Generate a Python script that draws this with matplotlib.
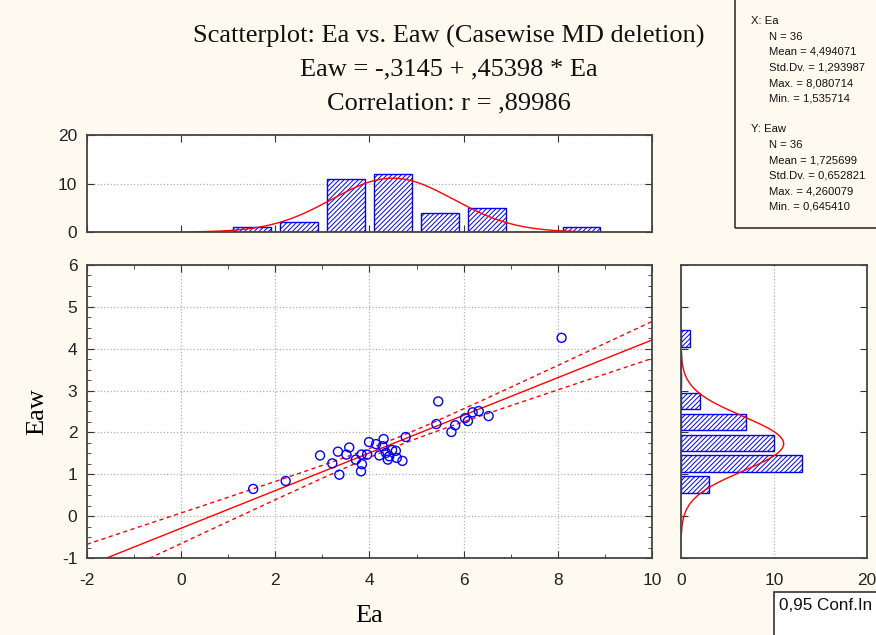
import matplotlib
matplotlib.use("Agg")
from matplotlib import pyplot as plt
from matplotlib import ticker
from matplotlib.patches import Rectangle
import numpy as np

# values
eaValues = [1.53, 2.22, 2.95, 3.21, 3.33, 3.36, 3.51, 3.57, 3.71, 3.83, 3.84, 3.82,
            3.95, 3.99, 4.14, 4.30, 4.28, 4.21, 4.35, 4.39, 4.48, 4.56, 4.58, 4.70,
            4.77, 4.42, 5.42, 5.46, 5.74, 5.82, 6.03, 6.09, 6.19, 6.32, 6.53, 8.08]
eawValues = [0.65, 0.84, 1.45, 1.26, 1.54, 0.99, 1.47, 1.64, 1.35, 1.47, 1.24, 1.07,
             1.47, 1.77, 1.72, 1.84, 1.67, 1.45, 1.51, 1.35, 1.58, 1.56, 1.39, 1.32,
             1.89, 1.43, 2.20, 2.74, 2.01, 2.17, 2.34, 2.27, 2.48, 2.51, 2.39, 4.26]

# histogram counts (Ea in bins of 1, Eaw in bins of 0.5)
eaBinEdges = [1, 2, 3, 4, 5, 6, 7, 8, 9]
eaCounts = [1, 2, 11, 12, 4, 5, 0, 1]
eawBinEdges = [0.5, 1.0, 1.5, 2.0, 2.5, 3.0, 3.5, 4.0, 4.5]
eawCounts = [3, 13, 10, 7, 2, 0, 0, 1]

titleLines = ["Scatterplot: Ea vs. Eaw (Casewise MD deletion)",
              "Eaw = -,3145 + ,45398 * Ea",
              "Correlation: r = ,89986"]
statsLines = ["X: Ea", "N = 36", "Mean = 4,494071", "Std.Dv. = 1,293987",
              "Max. = 8,080714", "Min. = 1,535714", "",
              "Y: Eaw", "N = 36", "Mean = 1,725699", "Std.Dv. = 0,652821",
              "Max. = 4,260079", "Min. = 0,645410"]

bgColor = "#fffaf0"
blue = "#0000ff"
red = "#ff0000"
serif = ["Liberation Serif", "DejaVu Serif"]
sans = ["Liberation Sans", "DejaVu Sans"]

plt.rcParams['font.family'] = sans
plt.rcParams['axes.unicode_minus'] = False
plt.rcParams['hatch.linewidth'] = 0.7
plt.rcParams['hatch.color'] = blue

fig = plt.figure(figsize=(8.76, 6.35), dpi=100, facecolor=bgColor)
axScatter = fig.add_axes([0.0993, 0.1213, 0.645, 0.4614])
axTop = fig.add_axes([0.0993, 0.6346, 0.645, 0.1528])
axRight = fig.add_axes([0.7774, 0.1213, 0.2123, 0.4614])


def styleAxes(ax):
    ax.set_facecolor("white")
    for spine in ax.spines.values():
        spine.set_color("#444444")
        spine.set_linewidth(1.3)
    ax.tick_params(which="both", direction="in", top=True, right=True,
                   color="#333333", labelsize=12.5, labelcolor="#222222", pad=7)
    ax.tick_params(axis="x", pad=11)
    ax.tick_params(which="major", length=5)
    ax.tick_params(which="minor", length=3)


x = np.array(eaValues)
y = np.array(eawValues)
n = len(x)

##--Scatterplot with fit and 95% confidence band--##
styleAxes(axScatter)
axScatter.set_xlim(-2, 10)
axScatter.set_ylim(-1, 6)
axScatter.xaxis.set_major_locator(ticker.MultipleLocator(2))
axScatter.xaxis.set_minor_locator(ticker.MultipleLocator(1))
axScatter.yaxis.set_major_locator(ticker.MultipleLocator(1))
axScatter.yaxis.set_minor_locator(ticker.MultipleLocator(0.25))
axScatter.grid(True, which="major", color="#b0b0b0", linestyle=":", linewidth=0.9)
axScatter.set_axisbelow(True)

slope, intercept = np.polyfit(x, y, 1)
xLine = np.linspace(-2, 10, 200)
yLine = intercept + slope * xLine
resid = y - (intercept + slope * x)
sResid = np.sqrt(np.sum(resid ** 2) / (n - 2))
sxx = np.sum((x - x.mean()) ** 2)
tValue = 2.032  # t(0.975, df=34)
band = tValue * sResid * np.sqrt(1 / n + (xLine - x.mean()) ** 2 / sxx)
axScatter.plot(xLine, yLine, color=red, linewidth=1)
axScatter.plot(xLine, yLine + band, color=red, linewidth=1, linestyle=(0, (3, 2.5)))
axScatter.plot(xLine, yLine - band, color=red, linewidth=1, linestyle=(0, (3, 2.5)))
axScatter.scatter(x, y, s=42, facecolors="none", edgecolors=blue, linewidths=1, zorder=3)

axScatter.set_xlabel("Ea", fontfamily=serif, fontsize=19, labelpad=12)
axScatter.set_ylabel("Eaw", fontfamily=serif, fontsize=19, labelpad=10)

##--Top histogram (Ea)--##
styleAxes(axTop)
axTop.set_xlim(-2, 10)
axTop.set_ylim(0, 20)
axTop.xaxis.set_major_locator(ticker.MultipleLocator(2))
axTop.yaxis.set_major_locator(ticker.MultipleLocator(10))
axTop.tick_params(labelbottom=False)
axTop.grid(True, axis="y", color="#b0b0b0", linestyle=":", linewidth=0.9)
axTop.set_axisbelow(True)
eaCenters = [(eaBinEdges[i] + eaBinEdges[i + 1]) / 2 for i in range(len(eaCounts))]
axTop.bar(eaCenters, eaCounts, width=0.8, color="white", edgecolor=blue,
          linewidth=1, hatch="///////")
xCurve = np.linspace(x.mean() - 3.3 * x.std(ddof=1), x.mean() + 3.3 * x.std(ddof=1), 200)
pdfX = np.exp(-0.5 * ((xCurve - x.mean()) / x.std(ddof=1)) ** 2) / (x.std(ddof=1) * np.sqrt(2 * np.pi))
axTop.plot(xCurve, n * 1.0 * pdfX, color=red, linewidth=1)

##--Right histogram (Eaw)--##
styleAxes(axRight)
axRight.set_xlim(0, 20)
axRight.set_ylim(-1, 6)
axRight.xaxis.set_major_locator(ticker.MultipleLocator(10))
axRight.yaxis.set_major_locator(ticker.MultipleLocator(1))
axRight.tick_params(axis="x", length=0)
axRight.tick_params(labelleft=False)
axRight.grid(True, axis="x", color="#b0b0b0", linestyle=":", linewidth=0.9)
axRight.set_axisbelow(True)
eawCenters = [(eawBinEdges[i] + eawBinEdges[i + 1]) / 2 for i in range(len(eawCounts))]
axRight.barh(eawCenters, eawCounts, height=0.4, color="white", edgecolor=blue,
             linewidth=1, hatch="///////")
yCurve = np.linspace(y.mean() - 3.3 * y.std(ddof=1), y.mean() + 3.3 * y.std(ddof=1), 200)
pdfY = np.exp(-0.5 * ((yCurve - y.mean()) / y.std(ddof=1)) ** 2) / (y.std(ddof=1) * np.sqrt(2 * np.pi))
axRight.plot(n * 0.5 * pdfY, yCurve, color=red, linewidth=1)

##--Titles and boxes--##
for i, line in enumerate(titleLines):
    fig.text(449 / 876, 1 - (36 + i * 33.5) / 635, line, fontfamily=serif, fontsize=19,
             ha="center", va="center", color="#111111")

fig.patches.append(Rectangle((735 / 876, 1 - 228 / 635), 0.3, 0.5, transform=fig.transFigure,
                             facecolor="none", edgecolor="#333333", linewidth=1.2))
for i, line in enumerate(statsLines):
    indent = 751 if line.startswith(("X:", "Y:")) else 769
    fig.text(indent / 876, 1 - (21 + i * 15.5) / 635, line, fontsize=8.1,
             ha="left", va="center", color="#111111")

fig.patches.append(Rectangle((774 / 876, -0.1), 0.3, 0.1 + 43 / 635, transform=fig.transFigure,
                             facecolor="white", edgecolor="#333333", linewidth=1.2))
fig.text(779 / 876, 1 - 606 / 635, "0,95 Conf.In", fontsize=12.3, ha="left", va="center",
         color="#111111")

fig.savefig("out.png", dpi=100, facecolor=bgColor)
